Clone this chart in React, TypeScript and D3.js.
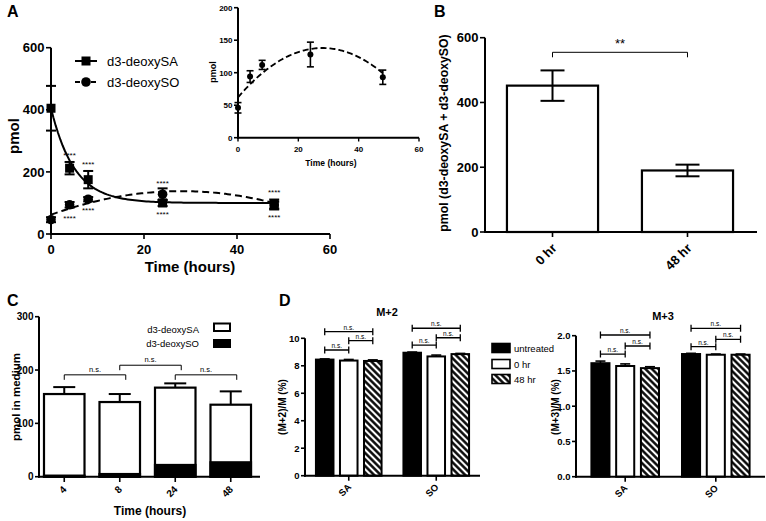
import React from 'react';
import * as d3 from 'd3';

const FONT = '"Liberation Sans", Arial, Helvetica, sans-serif';

// ---------- Panel A ----------
const timeA = [0, 4, 8, 24, 48];
const saMean = [405, 212, 175, 100, 95];
const saErr = [72, 20, 28, 10, 16];
const soMean = [46, 94, 112, 128, 93];
const soErr = [8, 9, 7, 19, 11];
const saFit = { y0: 405, plateau: 100, k: 0.2 };
const soFit = { y0: 62, peak: 138, tPeak: 28 };
const starsAbove: [number, number][] = [[4, 258], [8, 229], [24, 167], [48, 138]];
const starsBelow: [number, number][] = [[4, 55], [8, 80], [24, 68], [48, 58]];
const xTicksA = [0, 20, 40, 60];
const yTicksA = [0, 200, 400, 600];
const xTicksInset = [0, 20, 40, 60];
const yTicksInset = [0, 50, 100, 150, 200];

// ---------- Panel B ----------
const catB = ['0 hr', '48 hr'];
const valB = [452, 190];
const errB = [47, 18];
const yTicksB = [0, 200, 400, 600];

// ---------- Panel C ----------
const catC = ['4', '8', '24', '48'];
const totalC = [155, 140, 167, 135];
const errC = [13, 15, 8, 25];
const soC = [2, 5, 22, 27];
const yTicksC = [0, 100, 200, 300];
const bracketsC: [string, string, number][] = [['4', '8', 191], ['8', '24', 209], ['24', '48', 191]];

// ---------- Panel D ----------
const groupsD = ['SA', 'SO'];
const condsD = ['untreated', '0 hr', '48 hr'];
const m2SA = [8.45, 8.38, 8.35];
const m2SO = [8.95, 8.68, 8.85];
const m2SAErr = [0.05, 0.08, 0.08];
const m2SOErr = [0.05, 0.1, 0.05];
const m3SA = [1.61, 1.57, 1.54];
const m3SO = [1.74, 1.73, 1.73];
const m3SAErr = [0.03, 0.03, 0.02];
const m3SOErr = [0.01, 0.01, 0.01];
const yTicksM2 = [0, 2, 4, 6, 8, 10];
const yTicksM3 = [0, 0.5, 1, 1.5, 2];
const bracketsM2: [string, number, number, number][] = [
  ['SA', 0, 1, 9.15], ['SA', 1, 2, 9.83], ['SA', 0, 2, 10.48],
  ['SO', 0, 1, 9.51], ['SO', 1, 2, 10.04], ['SO', 0, 2, 10.73],
];
const bracketsM3: [string, number, number, number][] = [
  ['SA', 0, 1, 1.74], ['SA', 1, 2, 1.854], ['SA', 0, 2, 2.01],
  ['SO', 0, 1, 1.844], ['SO', 1, 2, 1.949], ['SO', 0, 2, 2.105],
];

const BLACK = '#000';

function YAxis({ scale, x, ticks, fs, fmt, len = 5, sw = 2 }: any) {
  const [r0, r1] = scale.range();
  return (
    <g>
      <line x1={x} x2={x} y1={r0 + sw / 2} y2={r1} stroke={BLACK} strokeWidth={sw} />
      {ticks.map((t: number) => (
        <g key={t}>
          <line x1={x - len} x2={x} y1={scale(t)} y2={scale(t)} stroke={BLACK} strokeWidth={1.6} />
          <text x={x - len - 1.5} y={scale(t)} dy="0.36em" textAnchor="end" fontSize={fs} fontWeight="bold">
            {fmt ? fmt(t) : t}
          </text>
        </g>
      ))}
    </g>
  );
}

function ErrBar({ x, y1, y2, cap, sw = 2 }: any) {
  return (
    <g stroke={BLACK} strokeWidth={sw}>
      <line x1={x} x2={x} y1={y1} y2={y2} />
      <line x1={x - cap / 2} x2={x + cap / 2} y1={y1} y2={y1} />
      <line x1={x - cap / 2} x2={x + cap / 2} y1={y2} y2={y2} />
    </g>
  );
}

function saCurve(t: number) {
  return saFit.plateau + (saFit.y0 - saFit.plateau) * Math.exp(-saFit.k * t);
}
function soCurve(t: number) {
  const u = (t - soFit.tPeak) / soFit.tPeak;
  return soFit.peak - (soFit.peak - soFit.y0) * u * u;
}

function PanelA() {
  const xA = d3.scaleLinear().domain([0, 60]).range([51, 330]);
  const yA = d3.scaleLinear().domain([0, 600]).range([234, 47.7]);
  const tFit = d3.range(0, 48.001, 0.5);
  const saPath = d3.line<number>().x((t) => xA(t)).y((t) => yA(saCurve(t)))(tFit) || '';
  const soPath = d3.line<number>().x((t) => xA(t)).y((t) => yA(soCurve(t)))(tFit) || '';

  const xI = d3.scaleLinear().domain([0, 60]).range([238, 419]);
  const yI = d3.scaleLinear().domain([0, 200]).range([137.7, 7.7]);
  const soPathI = d3.line<number>().x((t) => xI(t)).y((t) => yI(soCurve(t)))(tFit) || '';

  return (
    <g>
      <text x={7} y={17} fontSize={16} fontWeight="bold">A</text>
      <YAxis scale={yA} x={51} ticks={yTicksA} fs={13} />
      <line x1={50} x2={330} y1={234} y2={234} stroke={BLACK} strokeWidth={2} />
      {xTicksA.map((t) => (
        <g key={t}>
          <line x1={xA(t)} x2={xA(t)} y1={234} y2={239} stroke={BLACK} strokeWidth={1.6} />
          <text x={xA(t)} y={254} textAnchor="middle" fontSize={13} fontWeight="bold">{t}</text>
        </g>
      ))}
      <text x={190} y={272} textAnchor="middle" fontSize={15} fontWeight="bold">Time (hours)</text>
      <text transform="translate(19,136) rotate(-90)" textAnchor="middle" fontSize={15} fontWeight="bold">pmol</text>

      <path d={saPath} fill="none" stroke={BLACK} strokeWidth={2} />
      <path d={soPath} fill="none" stroke={BLACK} strokeWidth={2} strokeDasharray="7,4" />

      {timeA.map((t, i) => (
        <ErrBar key={'se' + i} x={xA(t)} y1={yA(saMean[i] + saErr[i])} y2={yA(saMean[i] - saErr[i])} cap={10} />
      ))}
      {timeA.map((t, i) => (
        <ErrBar key={'oe' + i} x={xA(t)} y1={yA(soMean[i] + soErr[i])} y2={yA(soMean[i] - soErr[i])} cap={10} />
      ))}
      {timeA.map((t, i) => (
        <rect key={'sq' + i} x={xA(t) - 4.5} y={yA(saMean[i]) - 4.5} width={9} height={9} fill={BLACK} />
      ))}
      {timeA.map((t, i) => (
        <circle key={'ci' + i} cx={xA(t)} cy={yA(soMean[i])} r={4.8} fill={BLACK} />
      ))}
      {starsAbove.concat(starsBelow).map(([t, v], i) => (
        <text key={'st' + i} x={xA(t)} y={yA(v)} dy="0.5em" textAnchor="middle" fontSize={8}>****</text>
      ))}

      <line x1={75} x2={97} y1={61} y2={61} stroke={BLACK} strokeWidth={2} />
      <rect x={81.5} y={56.5} width={9} height={9} fill={BLACK} />
      <text x={107} y={66} fontSize={13}>d3-deoxySA</text>
      <line x1={75} x2={97} y1={82} y2={82} stroke={BLACK} strokeWidth={2} strokeDasharray="5,3" />
      <circle cx={86} cy={82} r={4.8} fill={BLACK} />
      <text x={107} y={87} fontSize={13}>d3-deoxySO</text>

      <YAxis scale={yI} x={238} ticks={yTicksInset} fs={8} len={4} />
      <line x1={237} x2={419} y1={137.7} y2={137.7} stroke={BLACK} strokeWidth={2} />
      {xTicksInset.map((t) => (
        <g key={'xi' + t}>
          <line x1={xI(t)} x2={xI(t)} y1={137.7} y2={141.5} stroke={BLACK} strokeWidth={1.4} />
          <text x={xI(t)} y={151.5} textAnchor="middle" fontSize={8} fontWeight="bold">{t}</text>
        </g>
      ))}
      <text x={331} y={166} textAnchor="middle" fontSize={8.5} fontWeight="bold">Time (hours)</text>
      <text transform="translate(216,72) rotate(-90)" textAnchor="middle" fontSize={9} fontWeight="bold">pmol</text>
      <path d={soPathI} fill="none" stroke={BLACK} strokeWidth={1.8} strokeDasharray="6,3" />
      {timeA.map((t, i) => (
        <ErrBar key={'ie' + i} x={xI(t)} y1={yI(soMean[i] + soErr[i])} y2={yI(soMean[i] - soErr[i])} cap={7} sw={1.6} />
      ))}
      {timeA.map((t, i) => (
        <circle key={'ic' + i} cx={xI(t)} cy={yI(soMean[i])} r={3} fill={BLACK} />
      ))}
    </g>
  );
}

function PanelB() {
  const y = d3.scaleLinear().domain([0, 600]).range([232, 37.7]);
  const x = d3.scaleBand().domain(catB).range([484, 756]).paddingInner(0.325).paddingOuter(0.17);
  const c0 = (x('0 hr') || 0) + x.bandwidth() / 2;
  const c1 = (x('48 hr') || 0) + x.bandwidth() / 2;
  return (
    <g>
      <text x={434} y={17} fontSize={16} fontWeight="bold">B</text>
      <YAxis scale={y} x={485} ticks={yTicksB} fs={13} />
      <text transform="translate(448,133) rotate(-90)" textAnchor="middle" fontSize={12.3} fontWeight="bold">
        pmol (d3-deoxySA + d3-deoxySO)
      </text>
      {catB.map((c, i) => {
        const bx = x(c) || 0;
        const cx = bx + x.bandwidth() / 2;
        return (
          <g key={c}>
            <rect x={bx} y={y(valB[i])} width={x.bandwidth()} height={y(0) - y(valB[i])} fill="#fff" stroke={BLACK} strokeWidth={2.2} />
            <ErrBar x={cx} y1={y(valB[i] + errB[i])} y2={y(valB[i] - errB[i])} cap={24} />
            <line x1={cx} x2={cx} y1={232} y2={237} stroke={BLACK} strokeWidth={1.6} />
            <text transform={`translate(${cx + 5},${249}) rotate(-45)`} textAnchor="end" fontSize={13} fontWeight="bold">{c}</text>
          </g>
        );
      })}
      <line x1={484} x2={757} y1={232} y2={232} stroke={BLACK} strokeWidth={2} />
      <path d={`M${c0},57.3V52.3H${c1}V57.3`} fill="none" stroke={BLACK} strokeWidth={1} />
      <text x={(c0 + c1) / 2} y={48} textAnchor="middle" fontSize={13}>**</text>
    </g>
  );
}

function PanelC() {
  const y = d3.scaleLinear().domain([0, 300]).range([476.7, 316.7]);
  const x = d3.scaleBand().domain(catC).range([39, 256]).paddingInner(0.27).paddingOuter(0.09);
  const cx = (c: string) => (x(c) || 0) + x.bandwidth() / 2;
  return (
    <g>
      <text x={7} y={306} fontSize={16} fontWeight="bold">C</text>
      <YAxis scale={y} x={39} ticks={yTicksC} fs={10} len={4} />
      <text transform="translate(20,397) rotate(-90)" textAnchor="middle" fontSize={11.5} fontWeight="bold">pmol in medium</text>
      {catC.map((c, i) => {
        const bx = x(c) || 0;
        return (
          <g key={c}>
            <line x1={cx(c)} x2={cx(c)} y1={y(totalC[i])} y2={y(totalC[i] + errC[i])} stroke={BLACK} strokeWidth={2} />
            <line x1={cx(c) - 11} x2={cx(c) + 11} y1={y(totalC[i] + errC[i])} y2={y(totalC[i] + errC[i])} stroke={BLACK} strokeWidth={2} />
            <rect x={bx} y={y(totalC[i])} width={x.bandwidth()} height={y(0) - y(totalC[i])} fill="#fff" stroke={BLACK} strokeWidth={2.2} />
            <rect x={bx} y={y(soC[i])} width={x.bandwidth()} height={y(0) - y(soC[i])} fill={BLACK} stroke={BLACK} strokeWidth={2.2} />
            <line x1={cx(c)} x2={cx(c)} y1={476.7} y2={482} stroke={BLACK} strokeWidth={1.6} />
            <text transform={`translate(${cx(c) + 3},${490}) rotate(-45)`} textAnchor="end" fontSize={10} fontWeight="bold">{c}</text>
          </g>
        );
      })}
      <line x1={38} x2={260} y1={476.7} y2={476.7} stroke={BLACK} strokeWidth={2} />
      <text x={150} y={515} textAnchor="middle" fontSize={12} fontWeight="bold">Time (hours)</text>
      {bracketsC.map(([a, b, v], i) => (
        <g key={'bc' + i}>
          <path d={`M${cx(a)},${y(v) + 5}V${y(v)}H${cx(b) + 6}V${y(v) + 5}`} fill="none" stroke={BLACK} strokeWidth={1} />
          <text x={(cx(a) + cx(b) + 6) / 2} y={y(v) - 3} textAnchor="middle" fontSize={7.5}>n.s.</text>
        </g>
      ))}
      <text x={199} y={333} textAnchor="end" fontSize={9.5}>d3-deoxySA</text>
      <rect x={214} y={323.5} width={16} height={7.5} fill="#fff" stroke={BLACK} strokeWidth={2} />
      <text x={199} y={347} textAnchor="end" fontSize={9.5}>d3-deoxySO</text>
      <rect x={213} y={339} width={18} height={9} fill={BLACK} />
    </g>
  );
}

function PanelD({ title, yScale, axisX, axisEnd, outerRange, pi, po, ticks, fmt, valsSA, valsSO, errSA, errSO, brackets, ylabel, labelX, titleX, titleY }: any) {
  const outer = d3.scaleBand().domain(groupsD).range(outerRange).paddingInner(pi).paddingOuter(po);
  const inner = d3.scaleBand().domain(condsD).range([0, outer.bandwidth()]).paddingInner(0.27).paddingOuter(0);
  const axisY = yScale(0);
  const fills = [BLACK, '#fff', 'url(#hatch)'];
  const barC = (g: string, k: number) => (outer(g) || 0) + (inner(condsD[k]) || 0) + inner.bandwidth() / 2;
  return (
    <g>
      <text x={titleX} y={titleY} textAnchor="middle" fontSize={11} fontWeight="bold">{title}</text>
      <YAxis scale={yScale} x={axisX} ticks={ticks} fs={9.5} fmt={fmt} len={4} />
      <text transform={`translate(${labelX},407) rotate(-90)`} textAnchor="middle" fontSize={10} fontWeight="bold">{ylabel}</text>
      {groupsD.map((g) => {
        const vals = g === 'SA' ? valsSA : valsSO;
        const errs = g === 'SA' ? errSA : errSO;
        const gc = (outer(g) || 0) + outer.bandwidth() / 2;
        return (
          <g key={g}>
            {condsD.map((c, k) => {
              const bx = (outer(g) || 0) + (inner(c) || 0);
              const cx = bx + inner.bandwidth() / 2;
              return (
                <g key={c}>
                  <ErrBar x={cx} y1={yScale(vals[k] + errs[k])} y2={yScale(vals[k] - errs[k])} cap={10} sw={1.6} />
                  <rect x={bx} y={yScale(vals[k])} width={inner.bandwidth()} height={axisY - yScale(vals[k])} fill={fills[k]} stroke={BLACK} strokeWidth={2} />
                </g>
              );
            })}
            <line x1={gc} x2={gc} y1={axisY} y2={axisY + 5} stroke={BLACK} strokeWidth={1.6} />
            <text transform={`translate(${gc + 3},${axisY + 12}) rotate(-45)`} textAnchor="end" fontSize={9.5} fontWeight="bold">{g}</text>
          </g>
        );
      })}
      <line x1={axisX - 1} x2={axisEnd} y1={axisY} y2={axisY} stroke={BLACK} strokeWidth={2} />
      {brackets.map(([g, a, b, v]: any, i: number) => {
        const x1 = barC(g, a);
        const x2 = barC(g, b);
        const yy = yScale(v);
        return (
          <g key={'bd' + i}>
            <path d={`M${x1},${yy - 3.5}V${yy + 3.5}M${x1},${yy}H${x2}M${x2},${yy - 3.5}V${yy + 3.5}`} fill="none" stroke={BLACK} strokeWidth={1.3} />
            <text x={(x1 + x2) / 2} y={yy - 2} textAnchor="middle" fontSize={6.5}>n.s.</text>
          </g>
        );
      })}
    </g>
  );
}

export default function App() {
  const yM2 = d3.scaleLinear().domain([0, 10]).range([475.7, 338.3]);
  const yM3 = d3.scaleLinear().domain([0, 2]).range([476.7, 335.7]);
  const legendFills = [BLACK, '#fff', 'url(#hatch)'];
  const legendY = [348, 364, 379];
  return (
    <svg width={766} height={521} style={{ position: 'absolute', left: 0, top: 0, background: '#fff' }} fontFamily={FONT}>
      <defs>
        <pattern id="hatch" patternUnits="userSpaceOnUse" width={4.6} height={4.6} patternTransform="rotate(-45)">
          <rect width={4.6} height={4.6} fill="#fff" />
          <line x1={2.3} y1={0} x2={2.3} y2={4.6} stroke={BLACK} strokeWidth={2.4} />
        </pattern>
      </defs>
      <rect width={766} height={521} fill="#fff" />
      <PanelA />
      <PanelB />
      <PanelC />
      <text x={279} y={306} fontSize={16} fontWeight="bold">D</text>
      <PanelD title="M+2" yScale={yM2} axisX={305} axisEnd={480} outerRange={[305, 480]} pi={0.25} po={0.125}
        ticks={yTicksM2} fmt={(t: number) => String(t)} valsSA={m2SA} valsSO={m2SO} errSA={m2SAErr} errSO={m2SOErr}
        brackets={bracketsM2} ylabel="(M+2)/M (%)" labelX={286} titleX={387} titleY={316} />
      <PanelD title="M+3" yScale={yM3} axisX={576} axisEnd={765} outerRange={[576, 765]} pi={0.254} po={0.17}
        ticks={yTicksM3} fmt={(t: number) => t.toFixed(1)} valsSA={m3SA} valsSO={m3SO} errSA={m3SAErr} errSO={m3SOErr}
        brackets={bracketsM3} ylabel="(M+3)/M (%)" labelX={559} titleX={663} titleY={320} />
      {condsD.map((c, k) => (
        <g key={'lg' + c}>
          <rect x={492} y={legendY[k] - 4.5} width={18} height={9} fill={legendFills[k]} stroke={BLACK} strokeWidth={1.6} />
          <text x={514} y={legendY[k] + 3.5} fontSize={9.5}>{c}</text>
        </g>
      ))}
    </svg>
  );
}
